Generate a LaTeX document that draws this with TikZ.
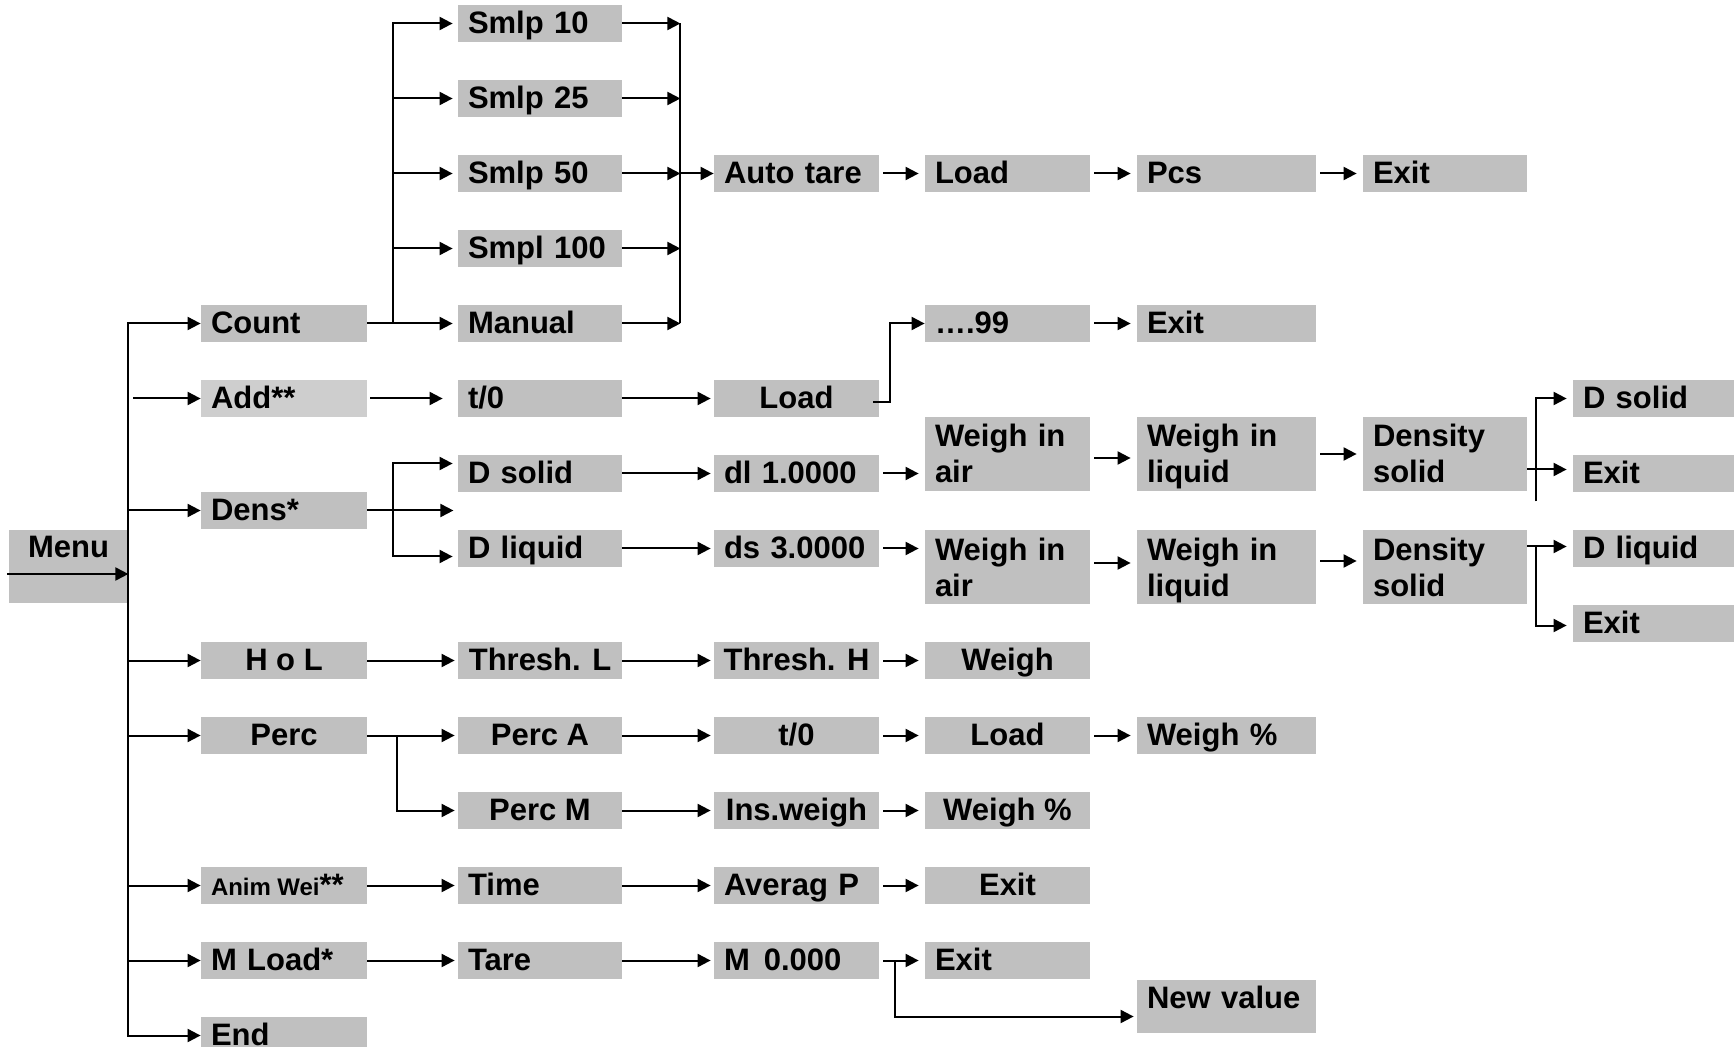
\documentclass[tikz,border=0pt]{standalone}
\usepackage{fontspec}
\setmainfont{Liberation Sans}
\usetikzlibrary{arrows.meta,calc}
\definecolor{boxgray}{RGB}{192,192,192}
\definecolor{boxlight}{RGB}{206,206,206}
\tikzset{
  Tri/.tip={Triangle[length=6.5pt,width=6.5pt]},
  ln/.style={line width=1pt},
  arr/.style={line width=1pt,-Tri},
  arr2/.style={line width=1pt,Tri-Tri},
  sarr/.style={arr,shorten <=2pt,shorten >=3pt},
  larr/.style={arr,shorten >=1.5pt},
  bx/.style={fill=boxgray,inner xsep=5pt,inner ysep=0pt,align=left,text height=14.25pt,text depth=4.25pt},
  two/.style={text height=15pt,text depth=22pt},
  ctr/.style={align=center,text width={},inner xsep=0pt,minimum width=#1},
  cA/.style={text width=49.5pt}, cB/.style={text width=73pt}, cC/.style={text width=72pt},
  cD/.style={text width=72.5pt}, cE/.style={text width=72.5pt}, cF/.style={text width=79.5pt},
  cG/.style={text width=72pt}, cH/.style={text width=80pt}
}
\begin{document}
\begin{tikzpicture}[x=0.5pt,y=-0.5pt,font=\bfseries\fontsize{15.5}{18}\selectfont]
\useasboundingbox (0,0) rectangle (1734,1047);
\clip (0,0) rectangle (1734,1047);
% column A
\node[bx,ctr=59.5pt,text height=14pt,text depth=22.5pt] (menu) at (68.5,566.5) {Menu};
% column B
\node[bx,cB] (count) at (284,323.5) {Count};
\node[bx,cB,fill=boxlight] (add) at (284,398.5) {Add**};
\node[bx,cB] (dens) at (284,510.5) {Dens*};
\node[bx,ctr=83pt] (hol) at (284,660.5) {H o L};
\node[bx,ctr=83pt] (perc) at (284,735.5) {Perc};
\node[bx,cB] (anim) at (284,885.5) {{\fontsize{12}{14}\selectfont Anim\hspace{3.2pt}Wei}**};
\node[bx,cB] (mload) at (284,960.5) {M Load*};
\node[bx,cB] (endn) at (284,1035.5) {End};
% column C
\node[bx,cC] (s10) at (540,23.5) {Smlp 10};
\node[bx,cC] (s25) at (540,98.5) {Smlp 25};
\node[bx,cC] (s50) at (540,173.5) {Smlp 50};
\node[bx,cC] (s100) at (540,248.5) {Smpl 100};
\node[bx,cC] (manual) at (540,323.5) {Manual};
\node[bx,cC] (tzero) at (540,398.5) {t/0};
\node[bx,cC] (dsolid) at (540,473.5) {D solid};
\node[bx,cC] (dliquid) at (540,548.5) {D liquid};
\node[bx,ctr=82pt] (threshl) at (540,660.5) {Thresh. L};
\node[bx,ctr=82pt] (perca) at (540,735.5) {Perc A};
\node[bx,ctr=82pt] (percm) at (540,810.5) {Perc M};
\node[bx,cC] (time) at (540,885.5) {Time};
\node[bx,cC] (tare) at (540,960.5) {Tare};
% column D
\node[bx,cD] (autotare) at (796.5,173.5) {Auto tare};
\node[bx,ctr=82.5pt] (loadb) at (796.5,398.5) {Load};
\node[bx,cD] (dl) at (796.5,473.5) {dl 1.0000};
\node[bx,cD] (ds) at (796.5,548.5) {ds 3.0000};
\node[bx,ctr=82.5pt] (threshh) at (796.5,660.5) {Thresh. H};
\node[bx,ctr=82.5pt] (tzerob) at (796.5,735.5) {t/0};
\node[bx,ctr=82.5pt] (insw) at (796.5,810.5) {Ins.weigh};
\node[bx,cD] (averag) at (796.5,885.5) {Averag P};
\node[bx,cD] (mzero) at (796.5,960.5) {M\hspace{7pt}0.000};
% column E
\node[bx,cE] (load1) at (1007.5,173.5) {Load};
\node[bx,cE] (dots) at (1007.5,323.5) {….99};
\node[bx,cE,two] (wair1) at (1007.5,454) {Weigh in\\air};
\node[bx,cE,two] (wair2) at (1007.5,567) {Weigh in\\air};
\node[bx,ctr=82.5pt] (weigh) at (1007.5,660.5) {Weigh};
\node[bx,ctr=82.5pt] (loadp) at (1007.5,735.5) {Load};
\node[bx,ctr=82.5pt] (weighp1) at (1007.5,810.5) {Weigh \%};
\node[bx,ctr=82.5pt] (exitav) at (1007.5,885.5) {Exit};
\node[bx,cE] (exitm) at (1007.5,960.5) {Exit};
% column F
\node[bx,cF] (pcs) at (1226.5,173.5) {Pcs};
\node[bx,cF] (exit2) at (1226.5,323.5) {Exit};
\node[bx,cF,two] (wliq1) at (1226.5,454) {Weigh in\\liquid};
\node[bx,cF,two] (wliq2) at (1226.5,567) {Weigh in\\liquid};
\node[bx,cF] (weighp2) at (1226.5,735.5) {Weigh \%};
\node[bx,cF,text height=14pt,text depth=12.5pt] (newval) at (1226.5,1006.5) {New value};
% column G
\node[bx,cG] (exit1) at (1445,173.5) {Exit};
\node[bx,cG,two] (dens1) at (1445,454) {Density\\solid};
\node[bx,cG,two] (dens2) at (1445,567) {Density\\solid};
% column H
\node[bx,cH] (dsolidr) at (1663,398.5) {D solid};
\node[bx,cH] (exitr1) at (1663,473.5) {Exit};
\node[bx,cH] (dliquidr) at (1663,548.5) {D liquid};
\node[bx,cH] (exitr2) at (1663,623.5) {Exit};
% main trunk
\coordinate (menuin) at (7,574);
\draw[arr] (menuin) -- (menuin -| menu.east);
\draw[arr2] (count.west) -- (count.west -| menu.east) -- (endn.west -| menu.east) -- (endn.west);
\foreach \n in {dens,hol,perc,anim,mload} \draw[arr] (\n.west -| menu.east) -- (\n.west);
\draw[arr] ($(add.west -| menu.east)+(5,0)$) -- (add.west);
% count branch
\coordinate (cj) at ($(count.east)+(26,0)$);
\draw[ln] (count.east) -- (cj);
\draw[arr2,shorten <=2.5pt,shorten >=2.5pt] (s10.west) -- (s10.west -| cj) -- (manual.west -| cj) -- (manual.west);
\foreach \n in {s25,s50,s100} \draw[arr,shorten >=2.5pt] (\n.west -| cj) -- (\n.west);
\coordinate (sj) at ($(s50.east)+(58,0)$);
\draw[ln] (s10.east -| sj) -- (manual.east -| sj);
\foreach \n in {s10,s25,s50,s100,manual} \draw[arr] (\n.east) -- (\n.east -| sj);
\draw[arr] (sj) -- (autotare.west);
\draw[sarr] (autotare) -- (load1);
\draw[sarr] (load1) -- (pcs);
\draw[sarr] (pcs) -- (exit1);
% add row
\draw[arr,shorten <=1.5pt,shorten >=7.5pt] (add) -- (tzero);
\draw[larr] (tzero) -- (loadb);
\coordinate (lj) at ($(loadb.east)+(11,4)$);
\draw[arr] ($(loadb.east)+(-6,4)$) -- (lj) |- (dots.west);
\draw[sarr] (dots) -- (exit2);
% dens
\coordinate (dj) at ($(dens.east)+(26,0)$);
\coordinate (dfree) at ($(dens.east)+(86,0)$);
\draw[arr] (dens.east) -- (dfree);
\draw[arr2,shorten <=2.5pt,shorten >=2.5pt] ($(dsolid.west)+(0,-10)$) -- ($(dj |- dsolid.west)+(0,-10)$) -- ($(dj |- dliquid.west)+(0,8)$) -- ($(dliquid.west)+(0,8)$);
\draw[larr] (dsolid) -- (dl);
\draw[larr] (dliquid) -- (ds);
\draw[sarr] (dl.east) -- (dl.east -| wair1.west);
\draw[sarr] (ds.east) -- (ds.east -| wair2.west);
\draw[sarr] ($(wair1.east)+(0,4)$) -- ($(wair1.east -| wliq1.west)+(0,4)$);
\draw[sarr] ($(wair2.east)+(0,-4)$) -- ($(wair2.east -| wliq2.west)+(0,-4)$);
\draw[sarr] (wliq1) -- (dens1);
\draw[sarr] ($(wliq2.east)+(0,-6)$) -- ($(wliq2.east -| dens2.west)+(0,-6)$);
\coordinate (rj1) at ($(dens1.east)+(9,0)$);
\draw[arr,shorten >=3pt] ($(exitr1.west -| dens1.east)+(0,-4)$) -- ($(exitr1.west)+(0,-4)$);
\draw[arr,shorten >=3pt] ($(rj1 |- exitr1.west)+(0,28)$) -- (rj1 |- dsolidr.west) -- (dsolidr.west);
\coordinate (rj2) at ($(dens2.east)+(9,0)$);
\draw[arr,shorten >=3pt] ($(dliquidr.west -| dens2.east)+(0,-2)$) -- ($(dliquidr.west)+(0,-2)$);
\draw[arr,shorten >=3pt] ($(rj2 |- dliquidr.west)+(0,-2)$) |- ($(exitr2.west)+(0,2)$);
% H o L
\draw[larr] (hol) -- (threshl);
\draw[larr] (threshl) -- (threshh);
\draw[sarr] (threshh) -- (weigh);
% Perc
\coordinate (pj) at ($(perc.east)+(30,0)$);
\draw[larr] (perc) -- (perca);
\draw[larr] (pj) |- (percm.west);
\draw[larr] (perca) -- (tzerob);
\draw[sarr] (tzerob) -- (loadp);
\draw[sarr] (loadp) -- (weighp2);
\draw[larr] (percm) -- (insw);
\draw[sarr] (insw) -- (weighp1);
% Anim
\draw[larr] (anim) -- (time);
\draw[larr] (time) -- (averag);
\draw[sarr] (averag) -- (exitav);
% M Load
\draw[larr] (mload) -- (tare);
\draw[larr] (tare) -- (mzero);
\draw[sarr] (mzero) -- (exitm);
\coordinate (mj) at ($(mzero.east)+(16,0)$);
\draw[larr] (mj) |- ($(newval.west)+(0,10)$);
\end{tikzpicture}
\end{document}
